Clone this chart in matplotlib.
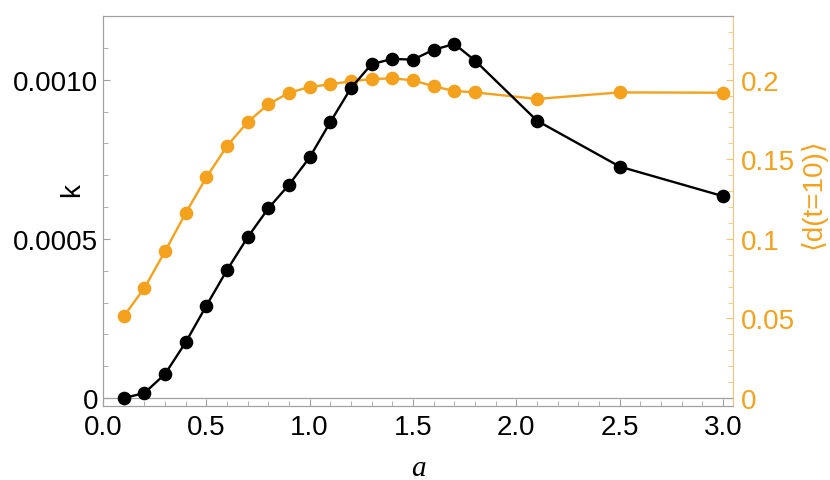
import matplotlib
matplotlib.use("Agg")
import matplotlib.pyplot as plt
from matplotlib.ticker import MultipleLocator, FixedLocator

# dane
a_vals = [0.1, 0.2, 0.3, 0.4, 0.5, 0.6, 0.7, 0.8, 0.9, 1.0, 1.1, 1.2,
          1.3, 1.4, 1.5, 1.6, 1.7, 1.8, 2.1, 2.5, 3.0]
k_vals = [0.0, 0.0000157, 0.0000754, 0.000175, 0.000290, 0.000402, 0.000505,
          0.000596, 0.000670, 0.000756, 0.000867, 0.000974, 0.001049, 0.001065,
          0.001063, 0.001094, 0.001112, 0.001060, 0.000871, 0.000727, 0.000634]
d_vals = [0.0513, 0.0691, 0.0921, 0.1162, 0.1386, 0.1583, 0.1734, 0.1845,
          0.1918, 0.1954, 0.1971, 0.1990, 0.2004, 0.2008, 0.1996, 0.1958,
          0.1929, 0.1920, 0.1879, 0.1920, 0.1918]

k_ticks = [0, 0.0005, 0.0010]
k_tick_labels = ["0", "0.0005", "0.0010"]
d_ticks = [0, 0.05, 0.1, 0.15, 0.2]
d_tick_labels = ["0", "0.05", "0.1", "0.15", "0.2"]

orange = "#F4A11D"
orange_light = "#F7C27A"
frame = "#A0A0A0"

plt.rcParams["font.family"] = ["Liberation Sans", "DejaVu Sans"]

fig = plt.figure(figsize=(8.30, 4.81), dpi=100)
ax = fig.add_axes([0.1241, 0.1538, 0.7590, 0.8109])
ax2 = ax.twinx()

# linia zera
ax.axhline(0, color=frame, lw=0.9, zorder=1)

ax2.plot(a_vals, d_vals, color=orange, lw=1.7, marker="o", ms=8.8, zorder=3)
ax.plot(a_vals, k_vals, color="black", lw=1.7, marker="o", ms=8.8, zorder=4)
ax.set_zorder(ax2.get_zorder() + 1)
ax.patch.set_visible(False)

ax.set_xlim(0.0, 3.048)
ax.set_ylim(-0.000025, 0.0012)
ax2.set_ylim(-0.005, 0.24)

ax.xaxis.set_major_locator(MultipleLocator(0.5))
ax.xaxis.set_minor_locator(MultipleLocator(0.1))
ax.xaxis.set_major_formatter(matplotlib.ticker.FormatStrFormatter("%.1f"))
ax.yaxis.set_major_locator(FixedLocator(k_ticks))
ax.set_yticklabels(k_tick_labels)
ax.yaxis.set_minor_locator(MultipleLocator(0.0001))
ax2.yaxis.set_major_locator(FixedLocator(d_ticks))
ax2.set_yticklabels(d_tick_labels)
ax2.yaxis.set_minor_locator(MultipleLocator(0.01))

for s in ["left", "top", "bottom"]:
    ax.spines[s].set_color(frame)
    ax2.spines[s].set_color(frame)
ax.spines["right"].set_visible(False)
ax2.spines["right"].set_color(orange_light)

ax.tick_params(axis="both", which="both", direction="in", color=frame,
               labelsize=20, labelcolor="black")
ax.tick_params(axis="both", which="major", length=5)
ax.tick_params(axis="both", which="minor", length=3.5)
ax.tick_params(axis="x", pad=6)
ax2.tick_params(axis="y", which="both", direction="in", color=orange_light,
                labelsize=20, labelcolor=orange, pad=6)
ax2.tick_params(axis="y", which="major", length=5)
ax2.tick_params(axis="y", which="minor", length=3.5)

# podpisy osi
ax.set_xlabel("a", fontsize=21, family="Liberation Serif", style="italic",
              va="center")
ax.xaxis.set_label_coords(0.5, -0.158)
ax.set_ylabel("k", fontsize=20, va="center")
ax.yaxis.set_label_coords(-0.049, 0.556)
ax2.set_ylabel("\u27e8d(t=10)\u27e9", fontsize=20, color=orange, va="center",
               family=["Liberation Sans", "DejaVu Sans"])
ax2.yaxis.set_label_coords(1.127, 0.546)

fig.savefig("out.png", dpi=100)
